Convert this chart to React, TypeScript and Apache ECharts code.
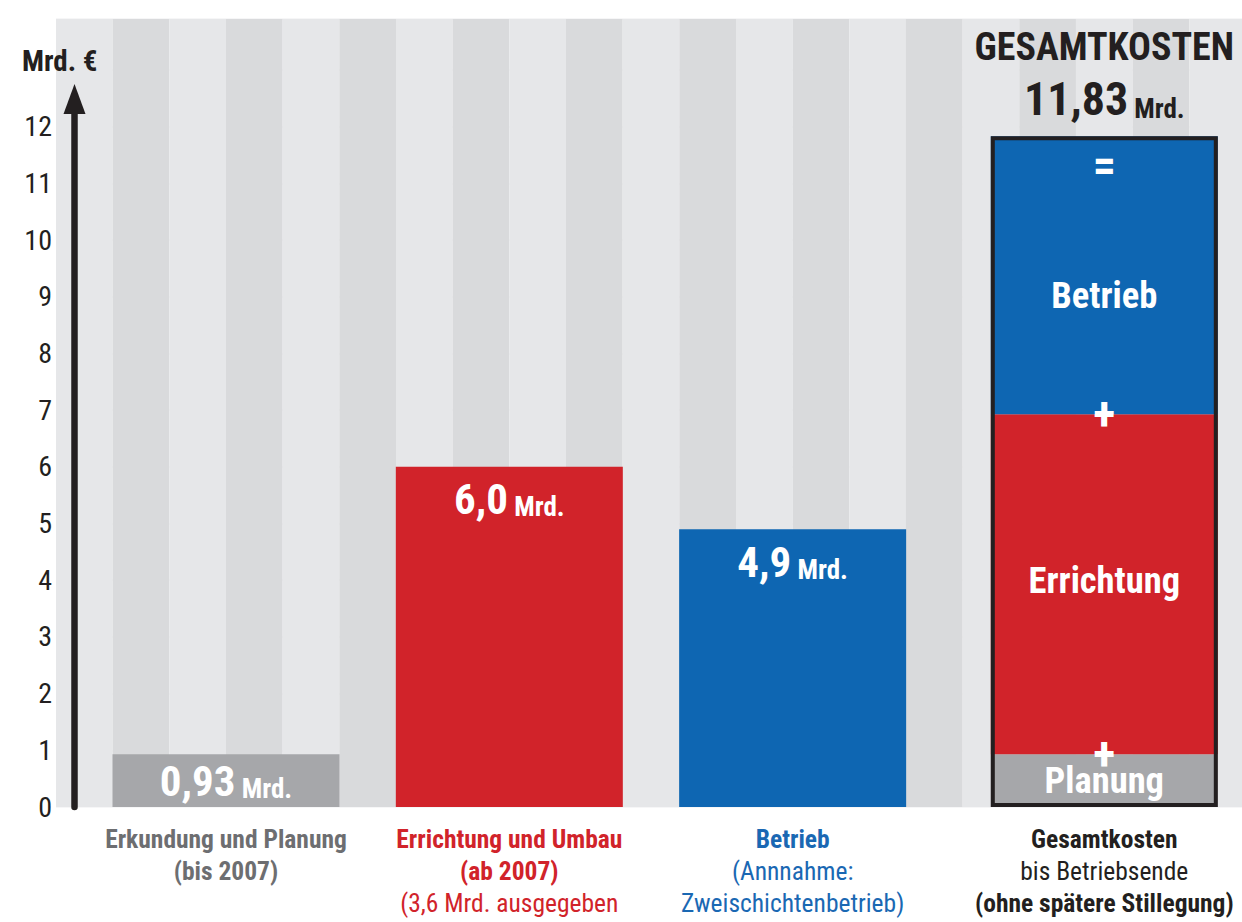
import React, { useEffect, useRef } from "react";
import * as echarts from "echarts";

// ---- data ----
const categories = ["Erkundung und Planung", "Errichtung und Umbau", "Betrieb", "Gesamtkosten"];
const categoryNotes = [
  ["(bis 2007)"],
  ["(ab 2007)", "(3,6 Mrd. ausgegeben"],
  ["(Annnahme:", "Zweischichtenbetrieb)"],
  ["bis Betriebsende", "(ohne spätere Stillegung)"],
];
const costs = [0.93, 6.0, 4.9]; // Mrd. €
const segmentNames = ["Planung", "Errichtung", "Betrieb"];
const totalTitle = "GESAMTKOSTEN";
const unit = "Mrd.";
const axisUnit = "Mrd. €";
const yMaxLabel = 12;

// ---- styles / layout ----
const FONT = "Roboto, 'DejaVu Sans Condensed', sans-serif";
const BOLD = "bold";
const REG = "normal";
const barColors = ["#a6a7aa", "#d1232a", "#0e66b2"];
const textColors = ["#6d6e71", "#d1232a", "#1a68b3", "#231f20"];
const lineWeights = [
  [BOLD, BOLD],
  [BOLD, BOLD, REG],
  [BOLD, REG, REG],
  [BOLD, REG, BOLD],
];
const slots = [3, 8, 13, 18.5];
const STRIPES = 20.93;
const BAR_W = 227;

const fmt = (v: number) =>
  v.toLocaleString("de-DE", { minimumFractionDigits: 1, maximumFractionDigits: 2 });

// measure text with the same condensed stretch that the page renders with
const measureCtx = document.createElement("canvas").getContext("2d") as any;
echarts.setPlatformAPI({
  measureText: (text: string, font?: string) => {
    measureCtx.font = font || "12px sans-serif";
    measureCtx.fontStretch = "condensed";
    return measureCtx.measureText(text);
  },
} as any);

export default function App() {
  const ref = useRef<HTMLDivElement>(null);
  useEffect(() => {
    document.body.style.margin = "0";
    if (!ref.current) return;
    const chart = echarts.init(ref.current, undefined, { renderer: "svg" });

    const total = costs.reduce((a, b) => a + b, 0);
    const cum: number[] = [];
    costs.reduce((a, b) => {
      cum.push(a + b);
      return a + b;
    }, 0);

    const valueRich = (size: number, uh: number, color: string) => ({
      v: { fontFamily: FONT, fontWeight: BOLD, fontSize: size, color, lineHeight: size, verticalAlign: "bottom" },
      u: { fontFamily: FONT, fontWeight: BOLD, fontSize: 27, color, lineHeight: uh, verticalAlign: "bottom" },
    });

    const rich: Record<string, any> = {};
    textColors.forEach((c, i) => {
      rich[`c${i}b`] = { fontFamily: FONT, fontWeight: BOLD, fontSize: 25.5, color: c, lineHeight: 32 };
      rich[`c${i}r`] = { fontFamily: FONT, fontWeight: REG, fontSize: 25.5, color: c, lineHeight: 32 };
    });

    const singleLabels = costs.map((v, i) => ({
      show: true,
      position: i === 0 ? "inside" : "insideTop",
      distance: 11,
      formatter: `{v|${fmt(v)}}{u| ${unit}}`,
      rich: valueRich(43, 32, "#fff"),
    }));

    const segLabel = (i: number) => {
      const base = { fontFamily: FONT, fontWeight: BOLD, fontSize: 36.5, color: "#fff" };
      if (i === 2) {
        return {
          show: true,
          position: "insideTop",
          distance: 14,
          formatter: `{eq|=}\n{n|${segmentNames[i]}}`,
          rich: { eq: { ...base, fontSize: 46, lineHeight: 30 }, n: { ...base, lineHeight: 230 } },
        };
      }
      return { show: true, position: "inside", offset: i === 1 ? [0, -4] : [0, 0], formatter: segmentNames[i], ...base };
    };

    const option: any = {
      animation: false,
      backgroundColor: "#ffffff",
      title: {
        text: axisUnit,
        left: 17,
        top: 41,
        textStyle: { fontFamily: FONT, fontWeight: BOLD, fontSize: 29, color: "#231f20" },
      },
      grid: [
        { left: 56, right: 0, top: 19, bottom: 115, outerBoundsMode: "none", containLabel: false },
        { left: 56, right: 0, top: 99, bottom: 115, outerBoundsMode: "none", containLabel: false },
      ],
      xAxis: [
        {
          type: "value",
          gridIndex: 0,
          min: 0,
          max: STRIPES,
          interval: 1,
          axisLine: { show: false },
          axisTick: { show: false },
          splitLine: { show: false },
          splitArea: { show: true, areaStyle: { color: ["#e6e7e9", "#d9dadc"] } },
          axisLabel: {
            show: true,
            customValues: slots,
            showMinLabel: true,
            showMaxLabel: true,
            hideOverlap: false,
            margin: 16,
            align: "center",
            verticalAlign: "top",
            formatter: (val: number) => {
              const i = slots.indexOf(Number(val));
              if (i < 0) return "";
              const lines = [categories[i], ...categoryNotes[i]];
              return lines.map((t, k) => `{c${i}${lineWeights[i][k] === BOLD ? "b" : "r"}|${t}}`).join("\n");
            },
            rich,
          },
        },
        { type: "value", gridIndex: 1, min: 0, max: 1, show: false },
      ],
      yAxis: [
        {
          type: "value",
          gridIndex: 0,
          min: 0,
          max: 13.9,
          interval: 1,
          axisLine: { show: false },
          axisTick: { show: false },
          splitLine: { show: true, lineStyle: { color: "#f6f6f7", width: 2 } },
          axisLabel: {
            margin: 4,
            fontFamily: FONT,
            fontWeight: REG,
            fontSize: 28,
            color: "#231f20",
            showMinLabel: true,
            formatter: (v: number) => (v <= yMaxLabel && Number.isInteger(v) ? String(v) : ""),
          },
        },
        {
          type: "value",
          gridIndex: 1,
          min: 0,
          max: 1,
          offset: -18.5,
          axisLine: {
            show: true,
            onZero: false,
            symbol: ["none", "triangle"],
            symbolSize: [22, 30],
            lineStyle: { color: "#231f20", width: 6.5 },
          },
          axisTick: { show: false },
          axisLabel: { show: false },
          splitLine: { show: false },
        },
      ],
      series: [
        {
          type: "bar",
          name: "Kosten",
          barWidth: BAR_W,
          barGap: "-100%",
          data: costs.map((v, i) => ({
            value: [slots[i], v],
            itemStyle: { color: barColors[i] },
            label: singleLabels[i],
          })),
        },
        // stacked total: value first, position second, so the stack runs along y
        ...costs.map((v, i) => ({
          type: "bar",
          name: segmentNames[i],
          stack: "gesamt",
          barWidth: BAR_W,
          barGap: "-100%",
          encode: { x: 1, y: 0 },
          data: [{ value: [v, slots[3]], itemStyle: { color: barColors[i] }, label: segLabel(i) }],
        })),
        {
          type: "bar",
          name: "Gesamt",
          barWidth: BAR_W,
          barGap: "-100%",
          z: 3,
          itemStyle: { color: "rgba(0,0,0,0)", borderColor: "#231f20", borderWidth: 4 },
          label: {
            show: true,
            position: "top",
            distance: 14,
            formatter: `{t|${totalTitle}}\n{v|${fmt(total)}}{u| ${unit}}`,
            rich: {
              t: { fontFamily: FONT, fontWeight: BOLD, fontSize: 38, color: "#231f20", lineHeight: 58 },
              v: { fontFamily: FONT, fontWeight: BOLD, fontSize: 46, color: "#231f20", lineHeight: 46, verticalAlign: "bottom" },
              u: { fontFamily: FONT, fontWeight: BOLD, fontSize: 27, color: "#231f20", lineHeight: 33, verticalAlign: "bottom" },
            },
          },
          data: [[slots[3], total]],
        },
        {
          type: "scatter",
          name: "plus",
          z: 5,
          symbolSize: 1,
          itemStyle: { color: "rgba(0,0,0,0)", opacity: 1 },
          label: { show: true, position: "inside", formatter: "+", fontFamily: FONT, fontWeight: BOLD, fontSize: 46, color: "#ffffff", opacity: 1 },
          data: cum.slice(0, 2).map((c) => [slots[3], c]),
        },
      ],
    };

    chart.setOption(option);
    return () => chart.dispose();
  }, []);

  return <div ref={ref} style={{ width: 1242, height: 922, fontStretch: "condensed" }} />;
}
